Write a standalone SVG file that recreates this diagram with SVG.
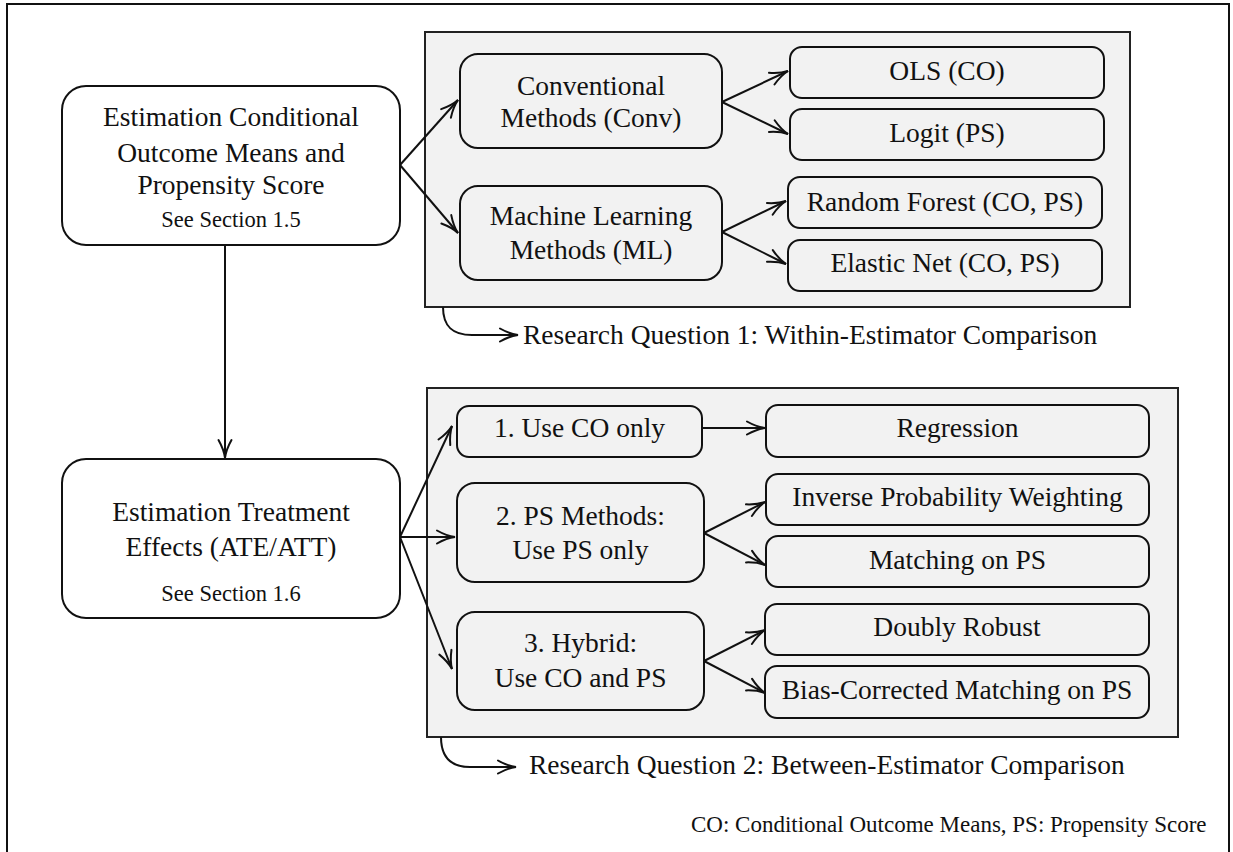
<svg xmlns="http://www.w3.org/2000/svg" width="1233" height="852" viewBox="0 0 1233 852">
<style>
  text { font-family: "Liberation Serif", "Times New Roman", serif; fill: #111; text-anchor: middle; }
  .t { font-size: 27.5px; }
  .s { font-size: 22.5px; }
  .f { font-size: 23px; }
  .l { text-anchor: start; }
  .big { fill: #fff; stroke: #111; stroke-width: 2; }
  .nd { fill: #f2f2f2; stroke: #111; stroke-width: 2; }
  .panel { fill: #f2f2f2; stroke: #222; stroke-width: 2; }
  .edge { fill: none; stroke: #111; stroke-width: 2; marker-end: url(#arr); }
</style>
<defs>
  <marker id="arr" markerUnits="userSpaceOnUse" markerWidth="24" markerHeight="18" viewBox="-20 -9 24 18" refX="0" refY="0" orient="auto" overflow="visible">
    <path d="M -18,-6.5 C -10,-2 -4,-0.5 0,0 C -4,0.5 -10,2 -18,6.5" fill="none" stroke="#111" stroke-width="2" stroke-linecap="round"/>
  </marker>
</defs>
<rect x="0" y="0" width="1233" height="852" fill="#fff"/>
<rect x="7" y="4" width="1222" height="870" fill="none" stroke="#111" stroke-width="2"/>

<g id="panel1"><rect class="panel" x="425" y="32" width="705" height="275"/></g>
<g id="panel2"><rect class="panel" x="427" y="388" width="751" height="349"/></g>

<g id="connectors">
  <path class="edge" d="M 225,245 L 225,458"/>
  <path class="edge" d="M 400,165 L 458,100"/>
  <path class="edge" d="M 400,165 L 458,233"/>
  <path class="edge" d="M 722,102 L 788,71"/>
  <path class="edge" d="M 722,102 L 788,134"/>
  <path class="edge" d="M 722,232 L 786,201"/>
  <path class="edge" d="M 722,232 L 786,264"/>
  <path class="edge" d="M 400,537 L 452,426"/>
  <path class="edge" d="M 400,537 L 455,537"/>
  <path class="edge" d="M 400,537 L 452,669"/>
  <path class="edge" d="M 702,428 L 765,428"/>
  <path class="edge" d="M 704,533 L 765,502"/>
  <path class="edge" d="M 704,533 L 765,565"/>
  <path class="edge" d="M 704,661 L 765,630"/>
  <path class="edge" d="M 704,661 L 765,693"/>
  <path class="edge" d="M 443,307 C 443,326 452,335 472,335 L 518,335"/>
  <path class="edge" d="M 441,737 C 441,757 450,767 470,767 L 516,767"/>
</g>

<g id="node-est-co">
  <rect class="big" x="62" y="86" width="338" height="159" rx="24"/>
  <text class="t" x="231" y="125.5">Estimation Conditional</text>
  <text class="t" x="231" y="161.5">Outcome Means and</text>
  <text class="t" x="231" y="194">Propensity Score</text>
  <text class="s" x="231" y="226.5">See Section 1.5</text>
</g>
<g id="node-est-te">
  <rect class="big" x="62" y="459" width="338" height="159" rx="24"/>
  <text class="t" x="231" y="520.5">Estimation Treatment</text>
  <text class="t" x="231" y="555.5">Effects (ATE/ATT)</text>
  <text class="s" x="231" y="600.5">See Section 1.6</text>
</g>

<g id="node-conv">
  <rect class="nd" x="460" y="54" width="262" height="94" rx="18"/>
  <text class="t" x="591" y="95">Conventional</text>
  <text class="t" x="591" y="127">Methods (Conv)</text>
</g>
<g id="node-ml">
  <rect class="nd" x="460" y="186" width="262" height="94" rx="18"/>
  <text class="t" x="591" y="224.5">Machine Learning</text>
  <text class="t" x="591" y="258.5">Methods (ML)</text>
</g>
<g id="node-ols">
  <rect class="nd" x="790" y="47" width="314" height="51" rx="12"/>
  <text class="t" x="947" y="79.5">OLS (CO)</text>
</g>
<g id="node-logit">
  <rect class="nd" x="790" y="109" width="314" height="51" rx="12"/>
  <text class="t" x="947" y="142">Logit (PS)</text>
</g>
<g id="node-rf">
  <rect class="nd" x="788" y="177" width="314" height="51" rx="12"/>
  <text class="t" x="945" y="210.5">Random Forest (CO, PS)</text>
</g>
<g id="node-en">
  <rect class="nd" x="788" y="240" width="314" height="51" rx="12"/>
  <text class="t" x="945" y="272">Elastic Net (CO, PS)</text>
</g>

<g id="node-co-only">
  <rect class="nd" x="457" y="406" width="245" height="51" rx="12"/>
  <text class="t" x="579.5" y="437">1. Use CO only</text>
</g>
<g id="node-ps-methods">
  <rect class="nd" x="457" y="483" width="247" height="99" rx="18"/>
  <text class="t" x="580.5" y="525">2. PS Methods:</text>
  <text class="t" x="580.5" y="558.5">Use PS only</text>
</g>
<g id="node-hybrid">
  <rect class="nd" x="457" y="612" width="247" height="98" rx="18"/>
  <text class="t" x="580.5" y="652">3. Hybrid:</text>
  <text class="t" x="580.5" y="687">Use CO and PS</text>
</g>
<g id="node-regression">
  <rect class="nd" x="766" y="405" width="383" height="52" rx="12"/>
  <text class="t" x="957.5" y="437">Regression</text>
</g>
<g id="node-ipw">
  <rect class="nd" x="766" y="474" width="383" height="51" rx="12"/>
  <text class="t" x="957.5" y="506">Inverse Probability Weighting</text>
</g>
<g id="node-matching">
  <rect class="nd" x="766" y="536" width="383" height="51" rx="12"/>
  <text class="t" x="957.5" y="568.5">Matching on PS</text>
</g>
<g id="node-dr">
  <rect class="nd" x="765" y="604" width="384" height="51" rx="12"/>
  <text class="t" x="957" y="636">Doubly Robust</text>
</g>
<g id="node-bcm">
  <rect class="nd" x="765" y="666" width="384" height="52" rx="12"/>
  <text class="t" x="957" y="698.5">Bias-Corrected Matching on PS</text>
</g>

<g id="labels">
  <text class="t l" x="523" y="344">Research Question 1: Within-Estimator Comparison</text>
  <text class="t l" x="529" y="774">Research Question 2: Between-Estimator Comparison</text>
  <text class="f l" x="691" y="831.5">CO: Conditional Outcome Means, PS: Propensity Score</text>
</g>
</svg>
